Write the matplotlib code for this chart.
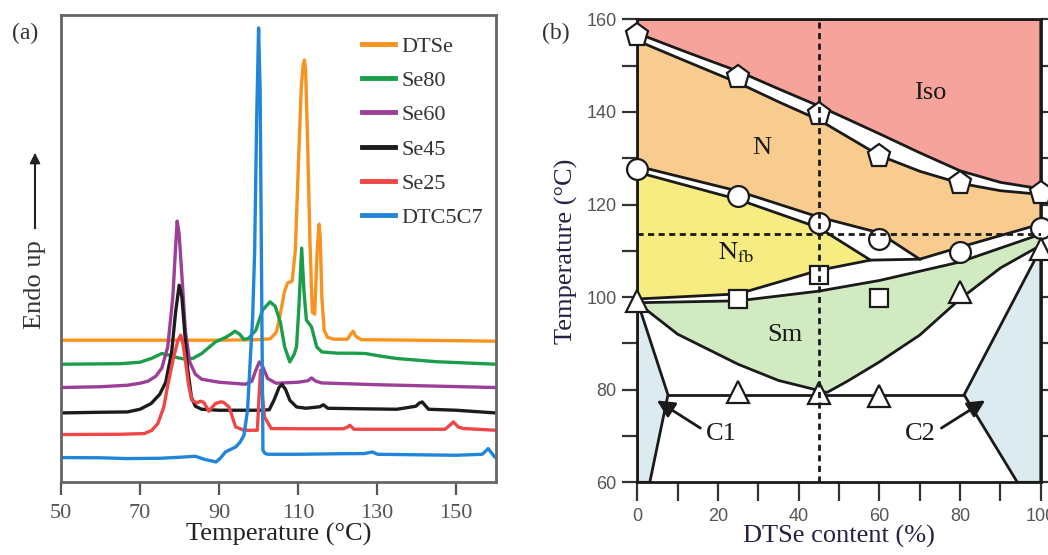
import matplotlib.pyplot as plt
from matplotlib.patches import Polygon

plt.rcParams['font.family'] = ['Liberation Serif', 'DejaVu Serif']
plt.rcParams['mathtext.fontset'] = 'stix'

# ---- (a) DSC heating traces (heat flow, arbitrary units, stacked) ----
names = ['DTSe', 'Se80', 'Se60', 'Se45', 'Se25', 'DTC5C7']
colors = ['#F7931E', '#1A9E4B', '#9C3F97', '#1C1C1C', '#EF4648', '#2186D9']

dtse_T = [50, 70, 90, 100, 103, 104.5, 105.5, 106.5, 107.3, 108.5, 109.3, 110.1, 110.8,
          111.3, 111.6, 111.9, 112.4, 113, 113.6, 114.2, 114.8, 115.3, 115.6, 116, 116.6,
          117.4, 119, 122.5, 123.3, 123.9, 124.6, 126, 140, 160]
dtse_v = [142, 142, 142, 142.5, 143.5, 150, 168, 190, 199, 201, 232, 320, 395,
          418, 422, 412, 340, 240, 170, 168, 230, 258, 245, 185, 152,
          145, 143, 143, 148, 151, 146, 142.5, 142, 141]

se80_T = [50, 65, 70, 73, 75.5, 77.5, 79.5, 81.5, 83.5, 85.6, 87.5, 89.1, 91.6, 93, 94,
          95.2, 96.3, 97.5, 99.3, 101, 102.9, 104.2, 105.5, 106.6, 107.9, 109, 109.6,
          110.2, 110.9, 111.5, 112.1, 113.4, 114.7, 116, 120, 124, 127, 131, 135, 145, 160]
se80_v = [118, 118.5, 120, 124, 128.7, 127, 124.5, 123, 124, 128.7, 135, 140.3, 144.7, 148, 151,
          148, 142.7, 144, 152, 172, 180.3, 176, 160, 135.3, 120.3, 128, 135.3,
          175, 234, 190, 162, 155.3, 135.3, 130.3, 129, 129, 128.7, 126, 123.7, 120.5, 118]

se60_T = [50, 60, 66.8, 70, 72, 74, 75.5, 77, 78.3, 79, 79.4, 79.9, 80.7, 81.5, 82.6, 84,
          85.6, 90, 96.7, 98.3, 99.3, 100.2, 101, 102.3, 104.4, 110, 112.5, 113.4, 114.5,
          116, 130, 160]
se60_v = [94.7, 95.5, 97, 99, 101, 106, 114, 135, 185, 235, 261, 248, 200, 150, 120, 108,
          103, 100, 98, 101, 112, 120.3, 116, 103.7, 99, 100, 101.5, 104.3, 101,
          99.3, 97.5, 94.7]

se45_T = [50, 60, 66.8, 70, 72.8, 75, 76.5, 78, 79, 79.9, 80.6, 81.3, 82, 83, 84, 85.6,
          90, 100, 102.7, 104, 105.2, 105.9, 106.8, 107.9, 109.6, 112, 115.5, 116.4, 117.5,
          125, 135, 139.8, 140.6, 141.4, 142.1, 143, 150, 160]
se45_v = [69.3, 70, 70.3, 73, 78.7, 88, 100, 130, 170, 197, 185, 150, 115, 85, 76, 73,
          72, 72, 72.5, 83, 95, 97.7, 93, 82, 75.3, 74, 75.5, 77.5, 74,
          73.5, 73, 76, 79, 80.3, 77, 73, 72, 69.3]

se25_T = [50, 65, 71.1, 73, 74.5, 76, 77.1, 78.5, 79.6, 80.3, 80.9, 81.6, 82.3, 83.1, 84.4,
          85.3, 86.1, 87, 87.4, 88, 89.1, 90.5, 91.2, 92.5, 93.3, 94.2, 96.3, 99.7, 100.1,
          100.5, 100.9, 101.5, 103.2, 110, 121.5, 122.4, 123.1, 124.1, 135, 147.2, 148.1,
          149.3, 150.6, 152, 160]
se25_v = [47.7, 48, 48.7, 52, 58.7, 75, 98.7, 125, 142, 147, 138, 118, 97, 82, 79.3,
          81, 80, 74, 71, 74, 78.7, 80.5, 79.7, 75.3, 66, 55.3, 52, 52, 85,
          112, 90, 65.3, 53.7, 53.5, 53.5, 55, 57, 53, 53, 53, 56,
          60.3, 55, 53.7, 52]

dtc_T = [50, 60, 66.8, 75, 80, 84, 86.5, 88, 89.2, 90.3, 91.6, 93, 94.2, 95.3, 96.3, 97.2,
         98, 98.5, 99, 99.5, 100, 100.4, 100.7, 101.1, 101.6, 102.3, 110, 120, 126.7, 128.8,
         130.1, 140, 150, 156.6, 158.1, 159.6, 160]
dtc_v = [24.7, 24.5, 23.7, 24, 25, 26, 22.7, 21.5, 20.3, 24, 30.3, 33, 35.3, 40, 47, 72,
         130, 165, 230, 360, 454, 390, 232, 32, 29, 28, 28, 28.5, 28.7, 30.3,
         28, 27.5, 27, 28, 33.7, 26, 24.7]

curves = [(dtse_T, dtse_v), (se80_T, se80_v), (se60_T, se60_v),
          (se45_T, se45_v), (se25_T, se25_v), (dtc_T, dtc_v)]

# ---- (b) phase diagram: transition temperatures vs DTSe content ----
x_pent = [0, 25, 45, 60, 80, 100]
t_pent = [156.6, 147.5, 139.6, 130.5, 124.6, 122.5]
x_circ = [0, 25, 45, 60, 80, 100]
t_circ = [127.6, 121.9, 116.0, 112.6, 109.7, 114.9]
x_sq = [25, 45, 60]
t_sq = [99.7, 104.7, 99.9]
x_tri = [0, 25, 45, 60, 80, 100]
t_tri = [99.2, 79.4, 79.3, 78.7, 101.1, 110.5]

# phase boundaries (composition, temperature)
iso_x = [0, 12, 25, 35, 45, 60, 70, 80, 90, 100]
iso_top = [157.0, 153.0, 148.8, 145.0, 141.3, 135.3, 131.2, 127.3, 124.8, 123.4]
iso_bot = [155.4, 151.0, 146.3, 142.2, 138.3, 130.6, 127.2, 124.6, 123.0, 122.2]
n_low_x = [0, 25, 45, 60, 70, 80, 100]
n_low_t = [128.3, 122.9, 117.3, 113.9, 108.2, 110.8, 115.8]
nfb_top_x = [0, 25, 45, 57.8]
nfb_top_t = [127.0, 121.1, 115.0, 108.0]
nfb_bot_x = [57.8, 45, 25, 0]
nfb_bot_t = [108.0, 105.8, 100.7, 99.6]
sm_top_x = [0, 25, 45, 60, 80, 100]
sm_top_t = [98.8, 99.2, 101.3, 103.6, 107.6, 113.6]
sm_bot_x = [100, 90, 80, 70, 60, 52, 47, 35, 25, 10, 0]
sm_bot_t = [111.2, 106.3, 99.6, 91.8, 86.0, 81.8, 79.4, 82.0, 85.5, 92.0, 98.8]
c1_x = [0, 7.6, 3.1, 0]
c1_t = [99.2, 78.9, 60, 60]
c2_x = [100, 81, 94.2, 100]
c2_t = [110.5, 78.9, 60, 60]

fig = plt.figure(figsize=(10.48, 5.55), dpi=100)

# ---------- panel (a) ----------
ax1 = fig.add_axes([0.0582, 0.131, 0.4148, 0.842])
for name, col, (tt, vv) in zip(names, colors, curves):
    ax1.plot(tt, vv, color=col, lw=2.4, label=name, solid_joinstyle='round')
ax1.set_xlim(50, 160)
ax1.set_ylim(0, 467)
ax1.set_xticks([50, 70, 90, 110, 130, 150])
ax1.set_yticks([])
for s in ax1.spines.values():
    s.set_color('#666666')
    s.set_linewidth(2)
ax1.tick_params(axis='x', direction='out', length=9.5, width=1.6, color='#555555',
                labelsize=16, labelcolor='#555555', pad=6)
ax1.set_xlabel('Temperature (°C)', fontsize=19, color='#222222', labelpad=0)
leg = ax1.legend(loc='upper left', bbox_to_anchor=(0.692, 0.955), frameon=False,
                 fontsize=16, handlelength=1.5, handletextpad=0.3, labelspacing=0.62,
                 borderpad=0, borderaxespad=0)
for line in leg.get_lines():
    line.set_linewidth(3.5)
for txt in leg.get_texts():
    txt.set_color('#333333')

fig.text(25 / 1048, 1 - 33 / 555, '(a)', fontsize=17, color='#333333', ha='center', va='center')
fig.text(35 / 1048, 1 - 285 / 555, 'Endo up', fontsize=19, rotation=90, color='#333333',
         ha='center', va='center')
fig.add_artist(plt.Line2D([35 / 1048, 35 / 1048], [1 - 228 / 555, 1 - 165 / 555],
                          color='#222222', lw=1.5))
ax1.annotate('', xy=(35 / 1048, 1 - 150 / 555), xytext=(35 / 1048, 1 - 170 / 555),
             xycoords='figure fraction',
             arrowprops=dict(arrowstyle='-|>', color='#222222', lw=1.2, mutation_scale=16))

# ---------- panel (b) ----------
ax2 = fig.add_axes([0.6081, 0.131, 0.385, 0.834])
ax2.set_xlim(0, 100)
ax2.set_ylim(60, 160)

edge = dict(edgecolor='#1A1A1A', linewidth=2, joinstyle='round')
ax2.add_patch(Polygon([(0, 160), (100, 160), (100, iso_top[-1])] +
                      list(zip(iso_x[::-1], iso_top[::-1])), facecolor='#F5A39B', **edge))
ax2.add_patch(Polygon(list(zip(iso_x, iso_bot)) +
                      list(zip(n_low_x[::-1], n_low_t[::-1])), facecolor='#F8CC8F', **edge))
ax2.add_patch(Polygon(list(zip(nfb_top_x, nfb_top_t)) +
                      list(zip(nfb_bot_x, nfb_bot_t)), facecolor='#F7EC82', **edge))
ax2.add_patch(Polygon(list(zip(sm_top_x, sm_top_t)) +
                      list(zip(sm_bot_x, sm_bot_t)), facecolor='#D1EAC1', **edge))
ax2.add_patch(Polygon(list(zip(c1_x, c1_t)), facecolor='#DCEBF0', **edge))
ax2.add_patch(Polygon(list(zip(c2_x, c2_t)), facecolor='#DCEBF0', **edge))
ax2.plot([c1_x[1], c2_x[1]], [c1_t[1], c2_t[1]], color='#1A1A1A', lw=2)
# upper edge of the white gap under the N / Nfb tips
ax2.plot([nfb_top_x[-1], n_low_x[4]], [nfb_top_t[-1], n_low_t[4]], color='#1A1A1A', lw=2)

mk = dict(ls='none', mfc='white', mec='#1A1A1A', mew=1.6, clip_on=False, zorder=5)
ax2.plot(x_pent, t_pent, marker='p', ms=17, **mk)
ax2.plot(x_circ, t_circ, marker='o', ms=15, **mk)
ax2.plot(x_sq, t_sq, marker='s', ms=13, **mk)
ax2.plot(x_tri, t_tri, marker='^', ms=16, **mk)

ax2.axvline(45.1, color='#1A1A1A', lw=2, ls=(0, (2.2, 1.6)), zorder=6)
ax2.axhline(113.6, color='#1A1A1A', lw=2, ls=(0, (2.2, 1.6)), zorder=6)

lab = dict(fontsize=19, color='#1A1A1A', ha='center', va='center', zorder=7)
ax2.text(72.7, 144.2, 'Iso', **lab)
ax2.text(30.8, 132.2, 'N', **lab)
ax2.text(24.6, 109.5, r'$\mathrm{N_{fb}}$', **lab)
ax2.text(36.6, 91.9, 'Sm', **lab)
ax2.text(20.9, 70.5, 'C1', **lab)
ax2.text(70.2, 70.5, 'C2', **lab)
arr = dict(arrowstyle='-|>', color='#1A1A1A', lw=2, mutation_scale=26)
ax2.annotate('', xy=(4.3, 78.0), xytext=(16.2, 71.4), arrowprops=arr, zorder=7)
ax2.annotate('', xy=(86.8, 78.0), xytext=(74.8, 71.4), arrowprops=arr, zorder=7)

ax2.set_xticks(range(0, 101, 20))
ax2.set_xticks(range(0, 101, 10), minor=True)
ax2.set_yticks(range(60, 161, 20))
ax2.set_yticks(range(60, 161, 10), minor=True)
for s in ax2.spines.values():
    s.set_color('#1A1A1A')
    s.set_linewidth(2)
ax2.tick_params(axis='x', which='both', direction='out', length=13.5, width=1.6,
                color='#333333', labelsize=13, labelcolor='#555555', pad=5,
                labelfontfamily='Liberation Sans')
ax2.tick_params(axis='y', which='both', direction='out', length=11, width=1.6,
                color='#333333', labelsize=13, labelcolor='#555555', pad=4,
                right=True, labelfontfamily='Liberation Sans')
ax2.set_xlabel('DTSe content (%)', fontsize=19, color='#222244', labelpad=0)
ax2.set_ylabel('Temperature (°C)', fontsize=19, color='#222244', labelpad=6)
fig.text(556 / 1048, 1 - 33 / 555, '(b)', fontsize=17, color='#333333', ha='center', va='center')

fig.savefig('out.png', dpi=100)
